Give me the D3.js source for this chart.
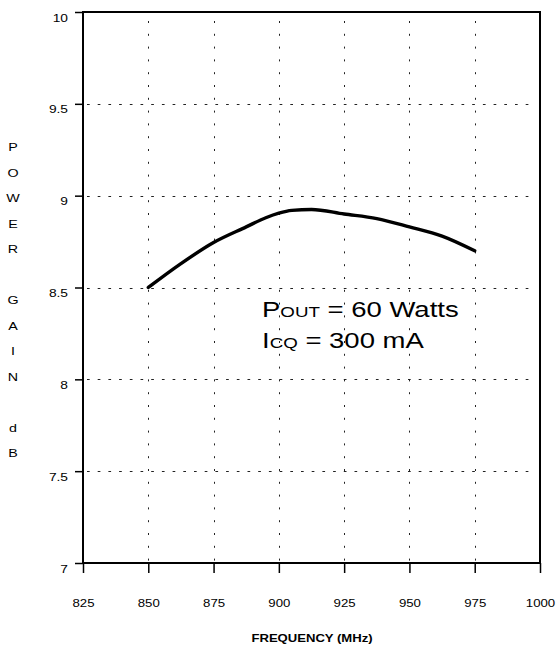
<!DOCTYPE html>
<html><head><meta charset="utf-8">
<script src="https://cdn.jsdelivr.net/npm/d3@7"></script>
<style>
body{margin:0;background:#fff}
svg{display:block}
text{font-family:"Liberation Sans",Arial,sans-serif;fill:#000}
</style>
</head><body>
<svg id="c" width="557" height="647"></svg>
<script>
// ---- data ----
const freqTicks = [825, 850, 875, 900, 925, 950, 975, 1000];
const gainTicks = [7, 7.5, 8, 8.5, 9, 9.5, 10];
const freq = [850, 862.5, 875, 887.5, 895, 900, 905, 912.5, 925, 937.5, 950, 962.5, 975];
const gain = [8.50, 8.63, 8.745, 8.83, 8.88, 8.905, 8.92, 8.925, 8.90, 8.875, 8.83, 8.78, 8.70];
const yTitleLetters = ["P","O","W","E","R","","G","A","I","N","","d","B"];
const xTitle = "FREQUENCY (MHz)";
const note1 = ["P", "OUT", " = 60 Watts"];
const note2 = ["I", "CQ", " = 300 mA"];

// ---- layout ----
const L = 83, R = 540, T = 12, B = 563;
const svg = d3.select("#c");
const x = d3.scaleLinear().domain([825, 1000]).range([L, R]);
const y = d3.scaleLinear().domain([7, 10]).range([B, T]);

// grid
const g = svg.append("g");
g.selectAll("line.hg").data(gainTicks.filter(d => d > 7 && d < 10)).join("line")
  .attr("x1", L + 4).attr("x2", R - 6)
  .attr("y1", d => Math.round(y(d)) + 0.5).attr("y2", d => Math.round(y(d)) + 0.5)
  .attr("stroke", "#222").attr("stroke-width", 1).attr("stroke-dasharray", "2.7,8");
g.selectAll("line.vg").data(freqTicks.filter(d => d > 825 && d < 1000)).join("line")
  .attr("x1", d => Math.round(x(d)) + 0.5).attr("x2", d => Math.round(x(d)) + 0.5)
  .attr("y1", T + 9).attr("y2", B)
  .attr("stroke", "#222").attr("stroke-width", 1).attr("stroke-dasharray", "2,10.8");

// frame
svg.append("rect").attr("x", L).attr("y", T).attr("width", R - L).attr("height", B - T)
  .attr("fill", "none").attr("stroke", "#000").attr("stroke-width", 2);

// axes
const yAxis = svg.append("g").attr("transform", `translate(${L},0)`)
  .call(d3.axisLeft(y).tickValues(gainTicks).tickSize(8).tickFormat(d3.format("")));
yAxis.select(".domain").remove();
yAxis.selectAll("line").attr("stroke", "#000").attr("stroke-width", 1.5);
yAxis.selectAll("text").attr("font-size", 11).attr("dy", null)
  .attr("text-anchor", "end")
  .attr("x", -15 / 1.25).attr("y", 9)
  .attr("transform", "scale(1.25,1)");

const xAxis = svg.append("g").attr("transform", `translate(0,${B})`)
  .call(d3.axisBottom(x).tickValues(freqTicks).tickSize(10).tickFormat(d3.format("")));
xAxis.select(".domain").remove();
xAxis.selectAll("line").attr("stroke", "#000").attr("stroke-width", 1.5);
xAxis.selectAll("text").attr("font-size", 11.5).attr("dy", null)
  .attr("y", 44).attr("transform", "scale(1.15,1)");

// curve
svg.append("path").datum(freq.map((f, i) => [f, gain[i]]))
  .attr("fill", "none").attr("stroke", "#000").attr("stroke-width", 3.4)
  .attr("stroke-linecap", "round")
  .attr("d", d3.line().x(d => x(d[0])).y(d => y(d[1])).curve(d3.curveMonotoneX));

// y title
svg.append("g").selectAll("text").data(yTitleLetters).join("text")
  .attr("transform", (d, i) => `translate(13,${151 + i * 25.5}) scale(1.3,1)`)
  .attr("text-anchor", "middle").attr("font-size", 11).text(d => d);

// x title
svg.append("text").attr("transform", "translate(312,642) scale(1.19,1)")
  .attr("text-anchor", "middle").attr("font-size", 11).attr("font-weight", "bold")
  .text(xTitle);

// annotation
function note(parts, ty) {
  const t = svg.append("text").attr("transform", `translate(262,${ty}) scale(1.25,1)`);
  parts.forEach((p, i) => t.append("tspan").attr("font-size", i === 1 ? 15 : 22).text(p));
}
note(note1, 317);
note(note2, 348);
</script>
</body></html>
